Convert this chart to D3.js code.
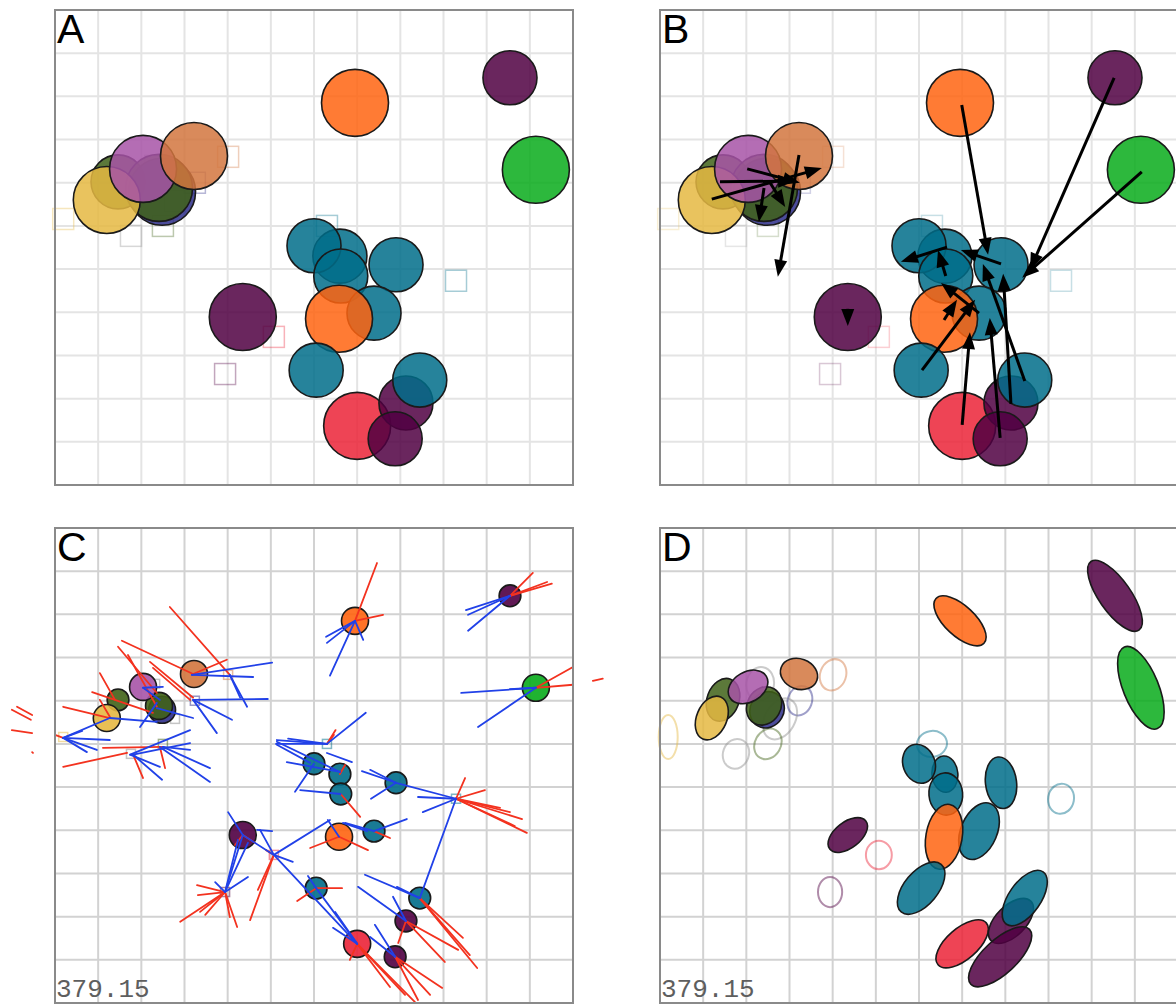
<!DOCTYPE html>
<html><head><meta charset="utf-8">
<script src="https://cdn.jsdelivr.net/npm/d3@7"></script>
<style>body{margin:0;background:#fff}svg{display:block}</style>
</head><body>
<svg id="chart" width="1176" height="1005"></svg>
<script>
// ---- embedding points (map units, grid step = 10) ----
const pointIds = ["green1","blue","green2","yellow","pink","tan","orangeTop","purpleTR","greenR","purpleBig",
  "tealB","tealA","tealC","tealD","tealE","orangeMid","tealF","red","purpleG","purpleH","tealG"];
const pointX = [14.6,24.8,24.1,12.0,20.4,32.2,69.5,105.4,111.4,43.5,66.0,60.0,66.2,79.0,73.9,65.8,60.5,70.0,81.3,78.8,84.5];
const pointY = [70.2,67.9,68.8,66.0,73.2,76.2,88.5,94.3,73.0,38.9,53.0,55.4,48.4,51.0,39.8,38.5,26.6,13.7,19.0,10.7,24.3];
const pointSize = [0.65,1,1,1,1,1,1,0.65,1,1,0.65,0.65,0.65,0.65,0.65,1,0.65,1,0.65,0.65,0.65];
const pointGroup = ["olive","slate","olive","gold","orchid","tan","orange","plum","green","plum",
  "teal","teal","teal","teal","teal","orange","teal","red","plum","plum","teal"];
// uncertainty ellipses: semi-major, semi-minor, tilt (degrees, counter-clockwise)
const ellMajor = [5.1,4.3,4.6,5.3,4.9,4.4,7.6,9.7,10.2,5.3,4.2,4.6,4.9,6.0,6.9,7.6,7.2,7.4,6.5,9.3,7.4];
const ellMinor = [3.7,3.9,3.9,3.5,3.5,3.5,3.5,3.7,4.1,3.0,3.0,3.7,3.9,3.6,4.2,4.2,3.9,3.6,3.5,3.9,3.7];
const ellAngle = [70,60,60,67,30,-20,-43,-55,-68,38,95,110,95,97,67,80,50,41,45,43,55];

// ---- previous positions ----
const ghostX = [40.1,32.4,23.2,27.8,25.0,17.6,1.9,63.0,92.9,50.7,39.4];
const ghostY = [76.0,70.0,73.9,65.8,60.0,57.7,61.6,60.0,47.3,34.3,25.7];
const ghostGroup = ["tan","slate","gray","gray","olive","gray","gold","teal","teal","red","plum"];
const ghostMajor = [3.7,3.5,3.9,5.1,3.7,3.5,5.1,3.5,3.5,3.3,3.5];
const ghostMinor = [3.0,2.8,3.2,3.5,3.0,3.0,2.2,3.0,3.0,3.0,2.8];
const ghostAngle = [70,70,80,60,60,70,90,10,80,90,90];

// ---- displacement arrows [x1, y1, x2, y2] ----
const arrows = [
  [69.9,88.0,76.0,53.3],[105.2,94.3,85.7,49.8],[111.6,72.5,83.9,48.0],
  [70.0,13.9,71.8,35.4],[78.8,10.9,76.4,38.7],[81.3,18.8,79.5,48.9],
  [84.5,24.1,74.8,51.2],[60.7,26.6,73.0,42.9],[65.8,38.2,68.8,42.9],
  [73.9,39.8,65.1,46.8],[66.2,48.4,64.4,54.4],[66.5,55.1,55.8,51.7],
  [79.0,51.2,69.7,54.4],[43.5,40.8,43.5,36.8],
  [12.0,66.2,37.5,73.4],[13.9,70.2,31.3,70.4],[20.2,73.2,32.4,70.0],
  [32.2,76.4,27.3,48.2],[24.1,68.8,22.9,60.9],[25.5,70.0,29.0,64.4]
];

// ---- neighbour links [x1, y1, x2, y2] ----
const redLinks = [
  [69.5,88.5,74.6,101.9],[69.5,88.5,76.0,89.9],
  [105.4,94.3,110.7,99.6],[105.4,94.3,114.0,97.5],[105.4,94.3,115.1,97.1],
  [111.4,73.0,120.0,77.8],[111.4,73.0,120.0,73.7],[124.6,74.6,126.9,75.1],
  [63.0,60.0,64.6,62.1],[63.0,60.0,65.0,63.2],[66.0,53.0,67.2,55.1],[66.2,48.4,70.7,43.1],
  [92.9,47.3,109.3,39.4],[92.9,47.3,108.2,42.6],[92.9,47.3,103.1,45.2],[92.9,47.3,99.6,49.3],
  [92.9,47.3,95.0,52.1],[92.9,47.3,105.4,44.2],[92.9,47.3,106.5,41.0],
  [65.8,38.5,59.1,35.9],[65.8,38.5,72.5,35.4],[73.9,39.8,77.6,38.2],
  [50.7,34.3,45.2,19.2],[50.7,34.3,48.9,35.4],[50.7,34.3,47.0,26.2],
  [43.5,38.9,41.7,36.6],[43.5,38.9,46.3,37.1],
  [39.4,25.7,29.0,18.8],[39.4,25.7,33.6,21.1],[39.4,25.7,42.2,17.6],[39.4,25.7,40.5,19.9],
  [39.4,25.7,32.9,27.3],[39.4,25.7,33.1,25.0],[39.4,25.7,34.8,20.4],
  [60.5,26.6,66.5,26.6],[60.5,26.6,56.1,23.6],
  [84.5,24.3,94.5,15.1],[84.5,24.3,97.8,8.1],[84.5,24.3,96.1,11.1],
  [81.3,19.0,90.3,9.5],[81.3,19.0,93.4,12.3],[81.3,19.0,79.5,13.9],
  [70.0,13.7,83.4,0.2],[70.0,13.7,77.6,3.7],[70.0,13.7,81.1,1.9],[70.0,13.7,68.3,10.0],
  [78.8,10.7,89.7,3.5],[78.8,10.7,84.1,0.7],[78.8,10.7,86.9,1.9],
  [26.6,91.7,40.5,76.0],[15.5,83.9,32.0,76.2],[14.6,82.5,23.6,71.8],[22.0,79.0,32.0,70.7],
  [10.4,76.4,13.9,70.2],[8.6,72.0,22.7,67.2],[1.9,68.6,12.7,66.0],[16.9,80.6,23.6,68.6],
  [32.0,76.2,39.8,79.5],[1.9,54.7,16.7,57.9],[11.1,59.1,25.0,59.3],[18.1,57.5,20.4,52.1],
  [24.3,59.3,25.5,54.4],[0.0,62.1,1.9,61.4],[22.7,77.6,31.3,70.2],[10.4,70.2,12.7,66.3],
  [-10.0,67.9,-5.6,65.6],[-8.8,68.6,-5.3,66.7],[-10.0,63.2,-5.3,62.5],[-5.3,58.1,-5.1,57.9]
];
const blueLinks = [
  [69.5,88.5,62.8,84.8],[69.5,88.5,63.0,83.4],[69.5,88.5,63.7,75.8],[69.5,88.5,71.4,84.1],
  [105.4,94.3,95.2,91.0],[105.4,94.3,95.7,89.9],[105.4,94.3,95.7,86.2],
  [111.4,73.0,94.1,71.8],[111.4,73.0,105.4,72.7],[111.4,73.0,98.0,63.9],
  [51.4,60.9,63.0,60.0],[54.0,61.2,63.0,60.0],[51.2,60.0,63.0,60.0],[63.0,60.0,72.0,67.2],
  [51.4,60.5,66.0,53.5],[53.7,55.8,66.0,53.5],[51.4,59.8,59.1,55.6],[55.6,48.9,60.0,55.4],
  [63.0,57.9,68.8,55.8],[56.8,49.3,66.2,48.4],
  [71.1,53.7,79.0,51.0],[73.0,54.0,79.0,51.0],[73.2,47.3,79.0,51.0],
  [79.0,51.0,92.9,47.3],[84.1,47.7,92.9,47.3],[85.2,44.2,92.9,47.3],[92.9,47.3,84.5,24.3],
  [63.2,42.4,65.8,38.5],[66.7,41.7,72.3,39.8],[63.7,42.4,50.7,34.3],
  [73.9,39.8,81.5,42.6],[67.2,41.7,73.9,39.8],
  [43.5,38.9,50.7,34.3],[47.5,40.1,50.7,34.3],[55.1,32.7,50.7,34.3],[50.7,34.3,70.0,13.7],
  [40.1,44.2,43.5,38.9],[46.8,40.1,50.3,39.8],
  [43.5,38.9,39.4,25.7],[42.4,37.8,39.4,25.7],[44.7,37.1,39.6,26.2],
  [44.7,29.2,39.4,25.7],[37.1,28.0,39.4,25.7],
  [58.6,29.4,60.5,26.6],[60.5,26.6,70.0,13.7],
  [71.8,29.7,84.5,24.3],[79.2,26.9,84.5,24.3],[70.2,26.9,81.3,19.0],[78.3,24.6,81.3,19.0],
  [64.9,21.1,70.0,13.7],[64.4,17.4,70.0,13.7],[74.1,18.1,78.8,10.7],[73.0,15.3,78.8,10.7],
  [31.7,76.0,50.3,78.8],[31.7,76.0,45.9,75.5],[40.5,76.0,44.5,68.6],[40.5,76.0,42.9,70.7],
  [32.0,70.2,49.3,70.4],[32.0,70.2,41.0,65.6],[32.0,70.2,37.5,62.5],[20.4,73.0,25.0,73.2],
  [23.6,68.3,32.0,66.0],[12.7,66.0,23.6,65.1],[1.9,61.4,12.7,66.0],[1.9,61.4,6.3,63.0],
  [1.9,61.4,9.7,58.6],[1.9,61.4,12.7,60.9],[1.9,61.4,7.4,58.1],[17.4,57.5,31.3,63.2],
  [17.4,57.5,24.3,54.7],[18.1,57.5,24.8,51.7],[25.0,59.3,31.3,58.6],[25.0,59.3,35.9,54.4],
  [24.3,59.3,35.9,51.2],[19.7,63.9,23.6,69.5],[20.4,73.0,24.3,70.2],[18.1,57.5,31.3,60.2]
];

const panelLetters = ["A","B","C","D"];
const stressLabel = "379.15";

const palette = {
  gold:"#e5b842", olive:"#406217", slate:"#2d2d8a", orchid:"#a754a7", tan:"#d2763e",
  orange:"#ff6410", plum:"#500042", green:"#08ab1b", teal:"#006d8a", red:"#eb2337", gray:"#8c8c8c"
};

const svg = d3.select("#chart");
const W = 518, H = 475;
const points = pointIds.map((id,i)=>({id, x:pointX[i], y:pointY[i], s:pointSize[i], c:palette[pointGroup[i]],
  a:ellMajor[i], b:ellMinor[i], t:ellAngle[i]}));
const ghosts = ghostX.map((gx,i)=>({x:gx, y:ghostY[i], c:palette[ghostGroup[i]], a:ghostMajor[i], b:ghostMinor[i], t:ghostAngle[i]}));

function makePanel(x0, y0, gridColor) {
  const x = d3.scaleLinear().domain([0,120]).range([x0, x0+W]);
  const y = d3.scaleLinear().domain([0,110]).range([y0+H, y0]);
  const g = svg.append("g");
  const grid = g.append("g").attr("stroke", gridColor).attr("stroke-width", 2);
  grid.selectAll("line.v").data(d3.range(0,121,10)).join("line").attr("class","v")
    .attr("x1", d=>x(d)).attr("x2", d=>x(d)).attr("y1", y(0)).attr("y2", y(110));
  grid.selectAll("line.h").data(d3.range(0,111,10)).join("line").attr("class","h")
    .attr("y1", d=>y(d)).attr("y2", d=>y(d)).attr("x1", x(0)).attr("x2", x(120));
  return {x, y, g};
}
function frame(p, letter, stress) {
  p.g.append("rect").attr("x", p.x(0)).attr("y", p.y(110))
    .attr("width", p.x(120)-p.x(0)).attr("height", p.y(0)-p.y(110))
    .attr("fill","none").attr("stroke","#8a8a8a").attr("stroke-width",2);
  p.g.append("text").attr("x", p.x(0)+2).attr("y", p.y(110)+33)
    .attr("font-family","'Liberation Sans', Arial, sans-serif").attr("font-size",41)
    .attr("fill","#000").text(letter);
  if (stress) p.g.append("text").attr("x", p.x(0)+1).attr("y", p.y(0)-6)
    .attr("font-family","'Liberation Mono', 'DejaVu Sans Mono', monospace").attr("font-size",26)
    .attr("fill","#5e5e5e").text(stress);
}
function squares(p, side, op) {
  p.g.append("g").selectAll("rect").data(ghosts).join("rect")
    .attr("x", d=>p.x(d.x)-side/2).attr("y", d=>p.y(d.y)-side/2)
    .attr("width", side).attr("height", side).attr("fill","none")
    .attr("stroke", d=>d.c).attr("stroke-opacity", op).attr("stroke-width",1.5);
}
function circles(p, rMax, op) {
  const r = d3.scaleSqrt().domain([0,1]).range([0,rMax]);
  p.g.append("g").selectAll("circle").data(points).join("circle")
    .attr("cx", d=>p.x(d.x)).attr("cy", d=>p.y(d.y)).attr("r", d=>r(d.s))
    .attr("fill", d=>d.c).attr("fill-opacity", op)
    .attr("stroke","#1a1a1a").attr("stroke-width",1.6);
}

// A: positions
const pA = makePanel(55, 10, "#e4e4e4");
squares(pA, 21, 0.35);
circles(pA, 33.5, 0.85);
frame(pA, panelLetters[0]);

// B: positions with displacement arrows
const pB = makePanel(660, 10, "#e4e4e4");
squares(pB, 21, 0.22);
circles(pB, 33.5, 0.85);
const arrowG = pB.g.append("g");
arrows.forEach(([x1,y1,x2,y2])=>{
  const sx = pB.x(x1), sy = pB.y(y1), tx = pB.x(x2), ty = pB.y(y2);
  const L = Math.hypot(tx-sx, ty-sy), ux = (tx-sx)/L, uy = (ty-sy)/L;
  const head = 17, half = 6.5;
  const bx = tx-ux*head, by = ty-uy*head;
  const ex = tx-ux*(head-3), ey = ty-uy*(head-3);
  if (L > head) arrowG.append("line").attr("x1",sx).attr("y1",sy).attr("x2",ex).attr("y2",ey)
    .attr("stroke","#000").attr("stroke-width",3);
  arrowG.append("path").attr("d", `M${tx},${ty}L${bx-uy*half},${by+ux*half}L${bx+uy*half},${by-ux*half}Z`)
    .attr("fill","#000");
});
frame(pB, panelLetters[1]);

// C: neighbour links
const pC = makePanel(55, 528, "#d2d2d2");
squares(pC, 9, 0.5);
circles(pC, 13.5, 0.9);
const linkG = pC.g.append("g").attr("stroke-width",1.8).attr("stroke-linecap","round");
linkG.selectAll("line.r").data(redLinks).join("line").attr("class","r")
  .attr("x1", d=>pC.x(d[0])).attr("y1", d=>pC.y(d[1])).attr("x2", d=>pC.x(d[2])).attr("y2", d=>pC.y(d[3]))
  .attr("stroke","#f3321f");
linkG.selectAll("line.b").data(blueLinks).join("line").attr("class","b")
  .attr("x1", d=>pC.x(d[0])).attr("y1", d=>pC.y(d[1])).attr("x2", d=>pC.x(d[2])).attr("y2", d=>pC.y(d[3]))
  .attr("stroke","#2141e8");
frame(pC, panelLetters[2], stressLabel);

// D: uncertainty ellipses
const pD = makePanel(660, 528, "#d2d2d2");
const kx = pD.x(1)-pD.x(0);
pD.g.append("g").selectAll("ellipse").data(ghosts).join("ellipse")
  .attr("transform", d=>`translate(${pD.x(d.x)},${pD.y(d.y)}) rotate(${-d.t})`)
  .attr("rx", d=>d.a*kx).attr("ry", d=>d.b*kx)
  .attr("fill","none").attr("stroke", d=>d.c).attr("stroke-opacity",0.45).attr("stroke-width",2);
pD.g.append("g").selectAll("ellipse").data(points).join("ellipse")
  .attr("transform", d=>`translate(${pD.x(d.x)},${pD.y(d.y)}) rotate(${-d.t})`)
  .attr("rx", d=>d.a*kx).attr("ry", d=>d.b*kx)
  .attr("fill", d=>d.c).attr("fill-opacity",0.85).attr("stroke","#1a1a1a").attr("stroke-width",1.6);
frame(pD, panelLetters[3], stressLabel);
</script>
</body></html>
